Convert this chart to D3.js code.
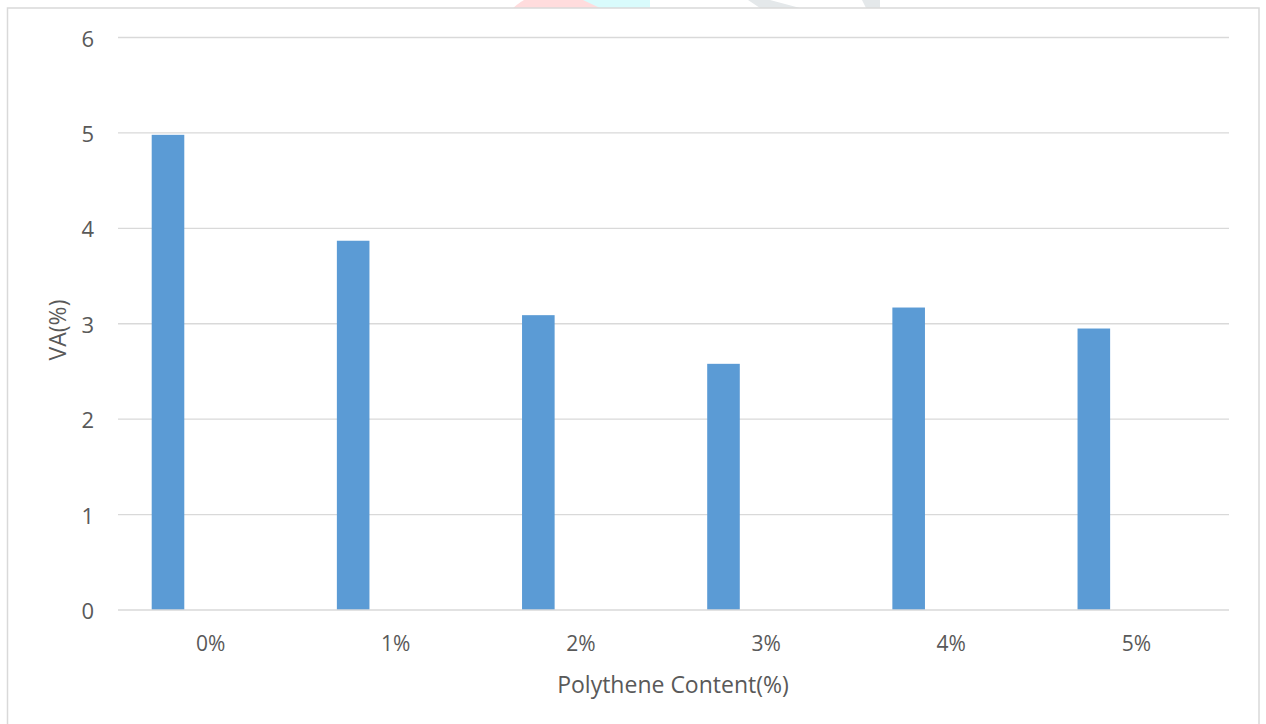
<!DOCTYPE html>
<html>
<head>
<meta charset="utf-8">
<script src="https://cdn.jsdelivr.net/npm/d3@7"></script>
<style>
  html, body { margin: 0; padding: 0; background: #ffffff; }
  svg { display: block; }
  text { font-family: "Open Sans", "Liberation Sans", sans-serif; fill: #595959; }
</style>
</head>
<body>
<svg id="chart" width="1266" height="724"></svg>
<script>
// Void content (VA) against polythene content
const categories = ["0%", "1%", "2%", "3%", "4%", "5%"];
const vaValues = [4.98, 3.87, 3.09, 2.58, 3.17, 2.95];
const yTicks = [0, 1, 2, 3, 4, 5, 6];
const xTitle = "Polythene Content(%)";
const yTitle = "VA(%)";

const W = 1266, H = 724;
const plot = { left: 118, right: 1229, top: 37.5, bottom: 610 };

const svg = d3.select("#chart");

// faint decorative shapes peeking above the chart frame
svg.append("clipPath").attr("id", "topStrip")
  .append("rect").attr("x", 0).attr("y", 0).attr("width", W).attr("height", 8);
const deco = svg.append("g").attr("clip-path", "url(#topStrip)");
deco.append("circle").attr("cx", 560).attr("cy", 60).attr("r", 70).attr("fill", "#ffdcdd");
deco.append("path").attr("d", "M583,0 L650,0 L650,8 L600,8 Z").attr("fill", "#d9fbfc");
deco.append("path").attr("d", "M748,0 L770,0 L800,8 L760,8 Z").attr("fill", "#e4e8ea");
deco.append("path").attr("d", "M862,0 L880,0 L880,8 L866,8 Z").attr("fill", "#e4e8ea");

// chart frame
svg.append("rect")
  .attr("x", 7.5).attr("y", 8).attr("width", 1251.5).attr("height", 730)
  .attr("fill", "#ffffff").attr("stroke", "#d9d9d9").attr("stroke-width", 1.5);

const x = d3.scaleBand().domain(categories).range([plot.left, plot.right]);
const y = d3.scaleLinear().domain([0, 6]).range([plot.bottom, plot.top]);

// horizontal gridlines
svg.append("g").selectAll("line").data(yTicks.filter(t => t > 0)).join("line")
  .attr("x1", plot.left).attr("x2", plot.right)
  .attr("y1", d => y(d)).attr("y2", d => y(d))
  .attr("stroke", "#d9d9d9").attr("stroke-width", 1.3);

// bars (left slot of each category)
const bw = x.bandwidth();
svg.append("g").selectAll("rect").data(vaValues).join("rect")
  .attr("x", (d, i) => x(categories[i]) + bw * 0.182)
  .attr("width", bw * 0.176)
  .attr("y", d => y(d))
  .attr("height", d => y(0) - y(d))
  .attr("fill", "#5b9bd5");

// category axis line
svg.append("line")
  .attr("x1", plot.left).attr("x2", plot.right)
  .attr("y1", y(0)).attr("y2", y(0))
  .attr("stroke", "#d9d9d9").attr("stroke-width", 1.3);

// y tick labels
svg.append("g").selectAll("text").data(yTicks).join("text")
  .attr("x", 94).attr("y", d => y(d))
  .attr("text-anchor", "end").attr("dominant-baseline", "central")
  .attr("font-size", 22)
  .text(d => d);

// x tick labels
svg.append("g").selectAll("text").data(categories).join("text")
  .attr("x", d => x(d) + bw / 2).attr("y", 643)
  .attr("text-anchor", "middle").attr("dominant-baseline", "central")
  .attr("font-size", 21)
  .text(d => d);

// axis titles
svg.append("text")
  .attr("x", 673).attr("y", 684)
  .attr("text-anchor", "middle").attr("dominant-baseline", "central")
  .attr("font-size", 23)
  .text(xTitle);

svg.append("text")
  .attr("transform", "translate(57,330) rotate(-90)")
  .attr("text-anchor", "middle").attr("dominant-baseline", "central")
  .attr("font-size", 23)
  .text(yTitle);
</script>
</body>
</html>
